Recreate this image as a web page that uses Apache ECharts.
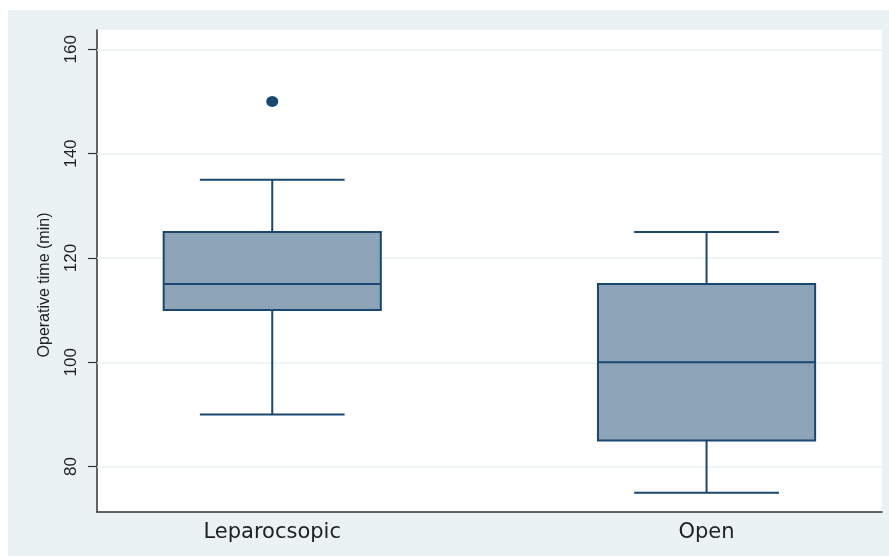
<!DOCTYPE html>
<html>
<head>
<meta charset="utf-8">
<script src="https://cdn.jsdelivr.net/npm/echarts@6/dist/echarts.min.js"></script>
<style>
  html, body { margin: 0; padding: 0; background: #ffffff; }
  #wrap { position: relative; width: 889px; height: 556px; background: #ffffff; }
  #chart { position: absolute; left: 8px; top: 10px; width: 881px; height: 546px; }
</style>
</head>
<body>
<div id="wrap"><div id="chart"></div></div>
<script>
// Groups and their positions on the x scale
const categories = ['Leparocsopic', 'Open'];
const positions = [1, 2];

// Box summaries: lower whisker, Q1, median, Q3, upper whisker (minutes)
const lowerWhisker = [90, 75];
const q1 = [110, 85];
const median = [115, 100];
const q3 = [125, 115];
const upperWhisker = [135, 125];

// Outside values: [group position, minutes]
const outliers = [[1, 150]];

// Y axis tick values
const yTicks = [80, 100, 120, 140, 160];

const navy = '#1a476f';
const boxFill = '#8ca3b8';
const gridColor = '#eaf2f3';
const axisColor = '#333333';

const boxData = positions.map((p, i) => [p, lowerWhisker[i], q1[i], median[i], q3[i], upperWhisker[i]]);

const BOX_W = 0.5;   // box width in x units
const CAP_W = 1 / 3; // whisker cap width in x units

function renderBox(params, api) {
  const x = api.value(0);
  const lo = api.coord([x, api.value(1)]);
  const b1 = api.coord([x, api.value(2)]);
  const md = api.coord([x, api.value(3)]);
  const b3 = api.coord([x, api.value(4)]);
  const hi = api.coord([x, api.value(5)]);
  const halfBox = api.size([BOX_W, 0])[0] / 2;
  const halfCap = api.size([CAP_W, 0])[0] / 2;
  const cx = lo[0];
  const lineStyle = { stroke: navy, lineWidth: 2, fill: null };
  return {
    type: 'group',
    children: [
      { type: 'line', shape: { x1: cx, y1: hi[1], x2: cx, y2: b3[1] }, style: lineStyle },
      { type: 'line', shape: { x1: cx, y1: b1[1], x2: cx, y2: lo[1] }, style: lineStyle },
      { type: 'line', shape: { x1: cx - halfCap, y1: hi[1], x2: cx + halfCap, y2: hi[1] }, style: lineStyle },
      { type: 'line', shape: { x1: cx - halfCap, y1: lo[1], x2: cx + halfCap, y2: lo[1] }, style: lineStyle },
      { type: 'rect', shape: { x: cx - halfBox, y: b3[1], width: 2 * halfBox, height: b1[1] - b3[1] },
        style: { fill: boxFill, stroke: navy, lineWidth: 2 } },
      { type: 'line', shape: { x1: cx - halfBox, y1: md[1], x2: cx + halfBox, y2: md[1] }, style: lineStyle }
    ]
  };
}

const chart = echarts.init(document.getElementById('chart'), null, { renderer: 'canvas' });
chart.setOption({
  backgroundColor: '#eaf2f3',
  animation: false,
  grid: {
    left: 89, right: 7, top: 20, bottom: 44,
    show: true, backgroundColor: '#ffffff', borderWidth: 0
  },
  xAxis: {
    type: 'value',
    min: 0.5965, max: 2.404,
    axisLine: { show: true, onZero: false, lineStyle: { color: axisColor, width: 1.5 } },
    axisTick: { show: false },
    splitLine: { show: false },
    axisLabel: {
      customValues: positions,
      formatter: v => categories[positions.indexOf(v)] || '',
      margin: 10,
      fontFamily: 'DejaVu Sans',
      fontSize: 21,
      color: '#222222'
    }
  },
  yAxis: {
    type: 'value',
    min: 71.3, max: 163.7,
    name: 'Operative time (min)',
    nameLocation: 'middle',
    nameGap: 44,
    nameTextStyle: { fontFamily: 'Liberation Sans', fontSize: 16, color: '#222222', padding: [0, 28, 0, 0] },
    axisLine: { show: true, onZero: false, lineStyle: { color: axisColor, width: 1.5 } },
    axisTick: { show: true, customValues: yTicks, length: 9, lineStyle: { color: axisColor, width: 1.2 } },
    splitLine: { show: false },
    axisLabel: {
      customValues: yTicks,
      rotate: 90,
      margin: 17,
      fontFamily: 'Liberation Sans',
      fontSize: 17,
      color: '#222222'
    }
  },
  series: [
    {
      // horizontal grid lines at the tick values
      type: 'line',
      data: [],
      z: 1,
      silent: true,
      markLine: {
        z: 1,
        silent: true,
        symbol: 'none',
        label: { show: false },
        lineStyle: { color: gridColor, width: 1.5, type: 'solid' },
        data: yTicks.map(v => ({ yAxis: v }))
      }
    },
    {
      type: 'custom',
      z: 3,
      renderItem: renderBox,
      encode: { x: 0, y: [1, 2, 3, 4, 5] },
      data: boxData
    },
    {
      type: 'scatter',
      z: 4,
      symbol: 'circle',
      symbolSize: [12, 11],
      itemStyle: { color: navy, opacity: 1 },
      data: outliers
    }
  ]
});
</script>
</body>
</html>
